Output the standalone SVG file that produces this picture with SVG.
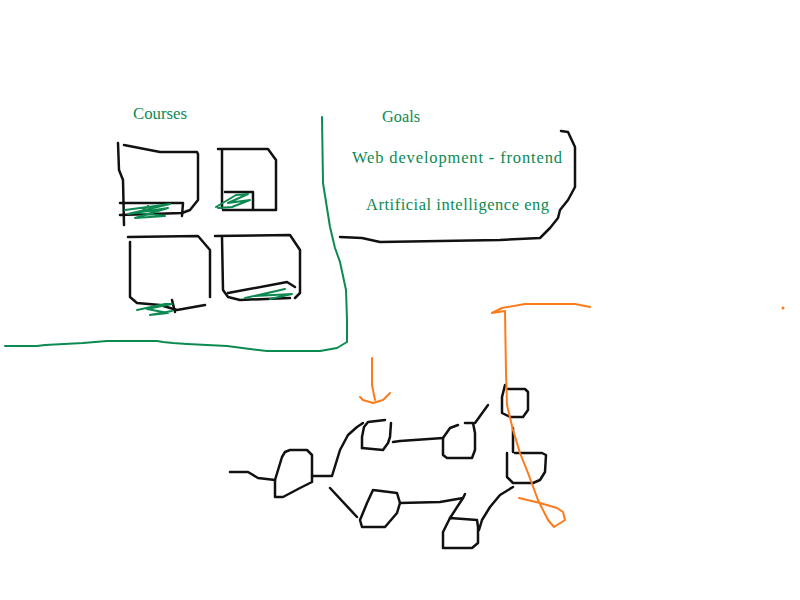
<svg xmlns="http://www.w3.org/2000/svg" width="800" height="600" viewBox="0 0 800 600">
<style>
.k{fill:none;stroke:#111;stroke-width:2.5;stroke-linecap:round;stroke-linejoin:round}
.g{fill:none;stroke:#0c8a52;stroke-width:2;stroke-linecap:round;stroke-linejoin:round}
.o{fill:none;stroke:#ff7a1a;stroke-width:2;stroke-linecap:round;stroke-linejoin:round}
.t{font-family:"Liberation Serif","DejaVu Serif",serif;font-size:16.5px;fill:#0c8a52}
</style>
<rect width="800" height="600" fill="#fff"/>
<g id="courses">
<text class="t" x="133" y="119" textLength="54" lengthAdjust="spacingAndGlyphs">Courses</text>
<g id="course1">
<polyline class="k" points="118,143 119,170 123,180 124,225"/>
<polyline class="k" points="124,145 160,152 197,152 198,154 198,200 190,210 182,213 120,215"/>
<polyline class="k" points="120,203 183,203 182,216"/>
<polyline class="g" points="125,210 170,204 128,214 168,208 135,218 165,216 140,213 148,206"/>
</g>
<g id="course2">
<polyline class="k" points="218,149 268,149 276,160 276,210 223,210"/>
<polyline class="k" points="222,150 222,208"/>
<polyline class="k" points="225,192 253,192 253,209"/>
<polyline class="g" points="216,207 236,195 248,194 228,203 250,200 232,207 218,208"/>
</g>
<g id="course3">
<polyline class="k" points="128,237 198,236 210,250 210,297"/>
<polyline class="k" points="130,242 130,297 137,303 160,305 177,310 205,305"/>
<polyline class="k" points="172,300 175,312"/>
<polyline class="g" points="137,310 165,304 172,304 147,309 168,313 150,315 172,311"/>
</g>
<g id="course4">
<polyline class="k" points="215,236 290,235 300,250 300,293 295,298"/>
<polyline class="k" points="222,237 223,290 228,297 240,300 290,298"/>
<polyline class="k" points="228,293 287,282 295,287"/>
<polyline class="g" points="245,298 285,289 255,296 292,294 270,299"/>
</g>
</g>
<g id="divider">
<polyline class="g" points="322,117 323,183 330,227 335,248 340,262 346,290 347,320 347,342 337,348 320,351 267,351 250,349 227,346 187,344 173,343 163,342 157,341 107,341 83,343 45,345 37,346 5,346"/>
</g>
<g id="goals">
<text class="t" x="382" y="122" textLength="38" lengthAdjust="spacingAndGlyphs">Goals</text>
<text class="t" x="352" y="163" textLength="210" lengthAdjust="spacing">Web development - frontend</text>
<text class="t" x="366" y="210" textLength="183" lengthAdjust="spacing">Artificial intelligence eng</text>
<polyline class="k" points="561,131 568,132 575,147 575,187 568,200 560,210 558,218 550,228 540,238 500,240 380,242 362,238 340,237"/>
</g>
<g id="connectors">
<polyline class="k" points="230,472 248,472 258,478 275,480"/>
<polyline class="k" points="312,476 332,476 340,450 348,435 357,427 363,423"/>
<polyline class="k" points="330,488 357,517"/>
<polyline class="k" points="393,442 400,441 443,438"/>
<polyline class="k" points="475,423 488,405"/>
<polyline class="k" points="513,428 513,452"/>
<polyline class="k" points="513,487 500,495 490,507 482,520 479,530"/>
<polyline class="k" points="400,503 440,502 463,498 465,494"/>
<polyline class="k" points="463,498 450,518"/>
</g>
<g id="node-a"><polyline class="k" points="282,457 285,452 290,450 307,450 312,455 312,482 300,488 283,497 275,497 275,480 282,457"/></g>
<g id="node-b"><polyline class="k" points="362,448 362,437 364,427 368,422 385,420"/><polyline class="k" points="362,448 383,450 388,443 390,437 391,423"/></g>
<g id="node-c"><polyline class="k" points="373,490 397,493 400,503 397,513 385,527 362,527 360,520 367,503 373,490"/></g>
<g id="node-d"><polyline class="k" points="443,438 450,428 458,425"/><polyline class="k" points="465,423 473,423 475,433 475,450 472,458 447,458 443,455 443,438"/></g>
<g id="node-e"><polyline class="k" points="505,385 502,397 502,413 510,417 523,417 528,410 528,392 525,389 507,389"/></g>
<g id="node-f"><polyline class="k" points="507,453 507,477 513,483 533,483 540,480 545,472 546,455 542,453 515,453"/></g>
<g id="node-g"><polyline class="k" points="450,518 477,520 478,527 478,543 472,548 443,548 443,532 450,518"/></g>
<g id="orange">
<polyline class="o" points="372,358 372,385 375,400"/>
<polyline class="o" points="360,397 363,400 373,403 383,400 390,393"/>
<polyline class="o" points="590,307 575,304 525,304 502,308 492,313 505,311 506,373 507,405 513,430 520,453 528,473 538,500 548,520 554,527 565,520 563,512 557,508 540,503 519,498"/>
<circle cx="783" cy="308" r="1.5" fill="#ff7a1a"/>
</g>
</svg>
